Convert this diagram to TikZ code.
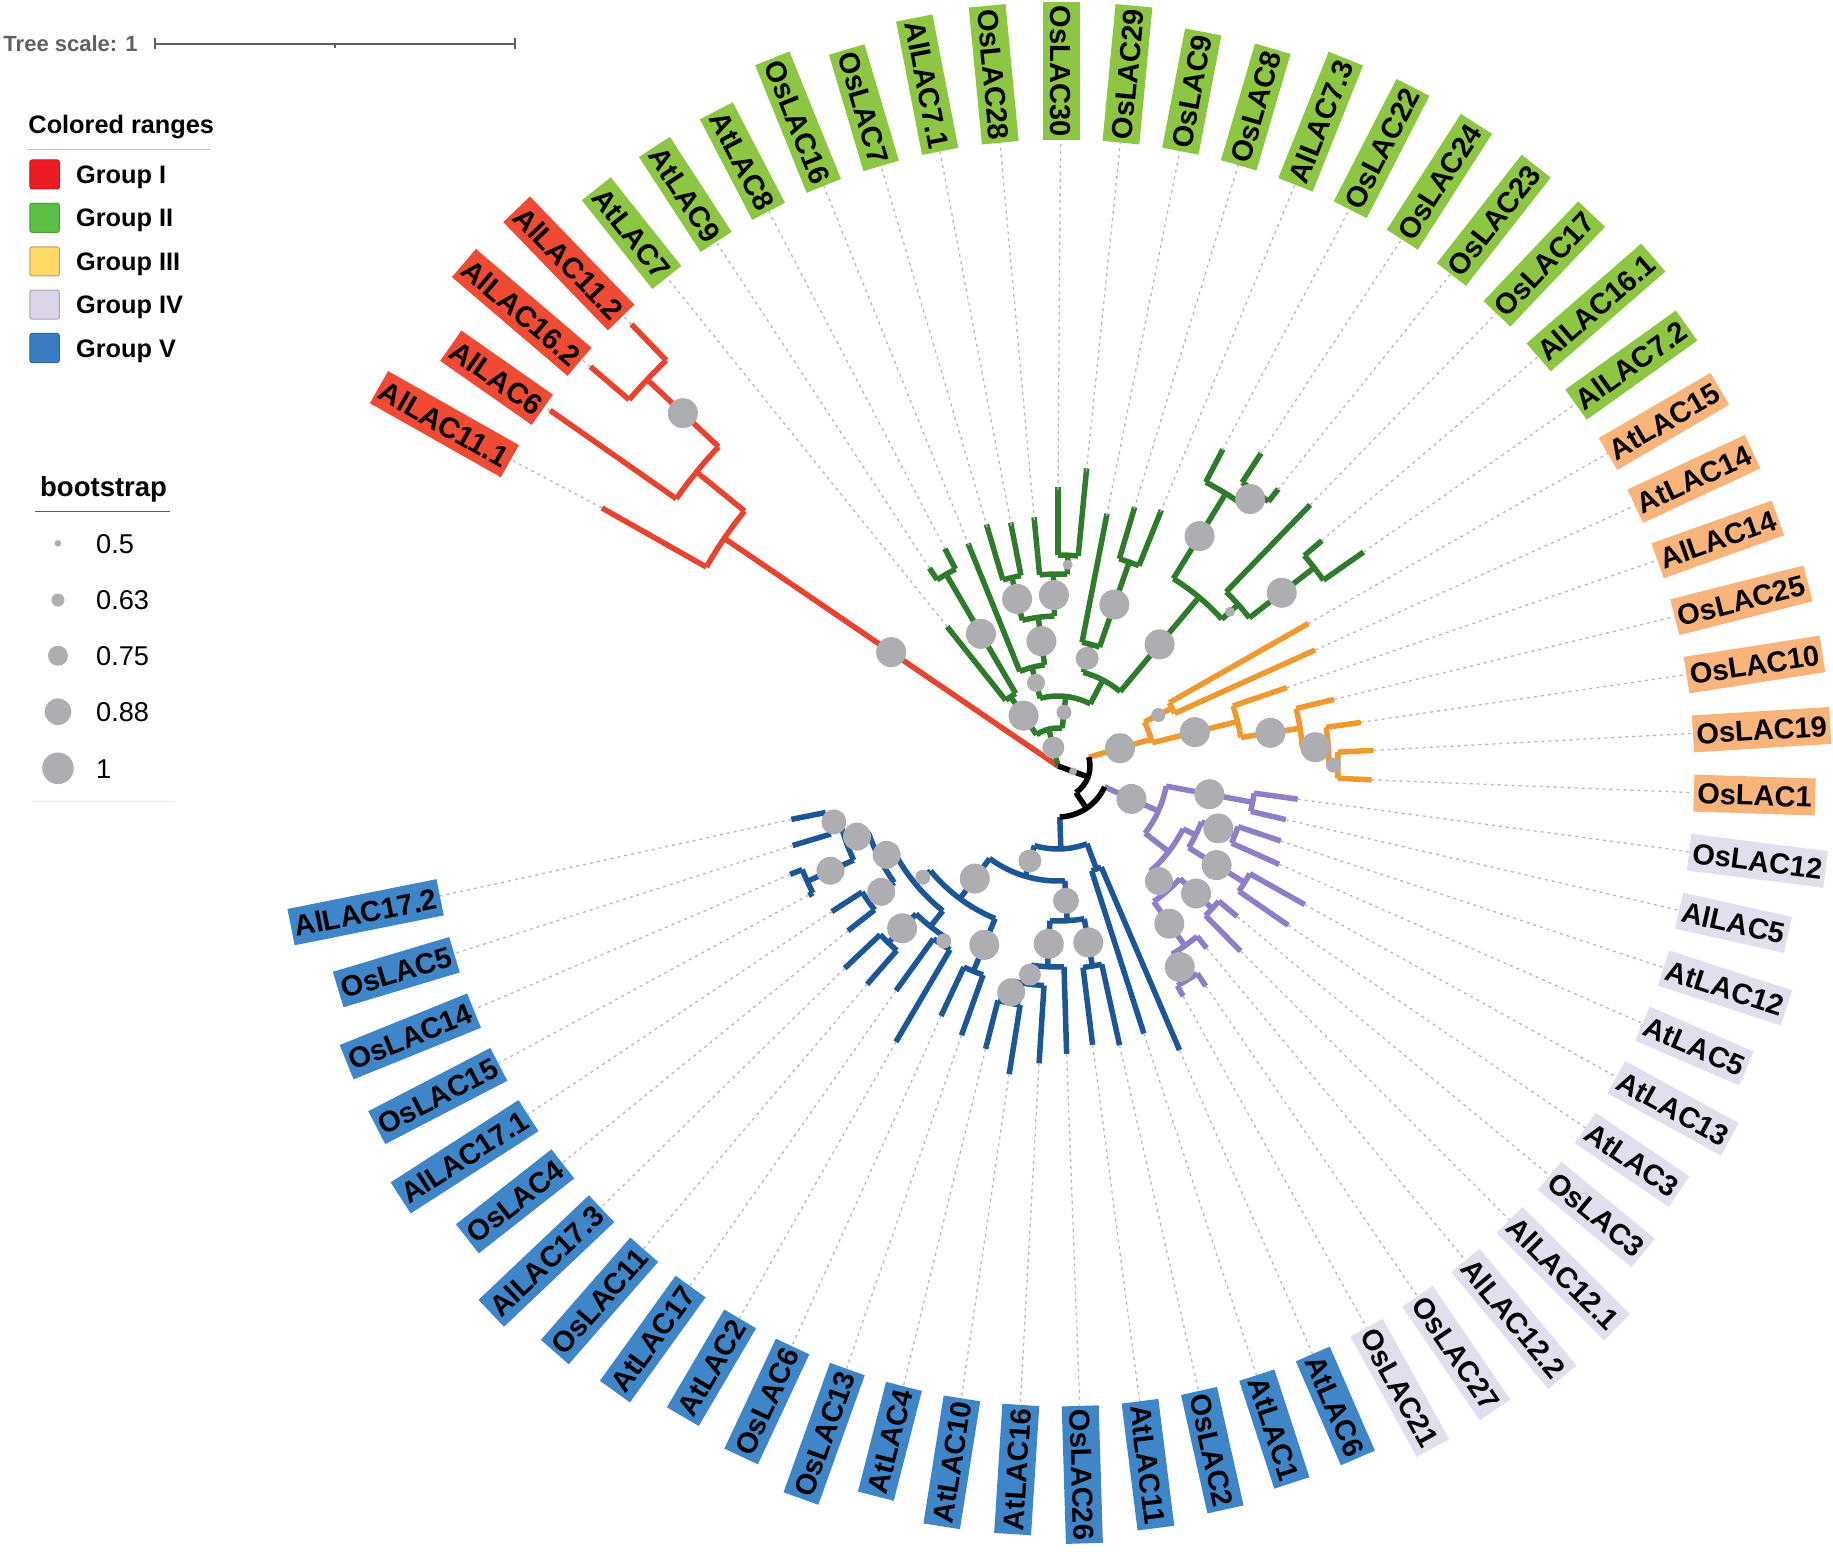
\documentclass[tikz,border=0pt]{standalone}
\usepackage{fontspec}
\setmainfont{Liberation Sans}
\definecolor{labR}{HTML}{EF4A33}
\definecolor{labG}{HTML}{8DC642}
\definecolor{labO}{HTML}{F9B47C}
\definecolor{labP}{HTML}{E2DEEE}
\definecolor{labB}{HTML}{3F86C8}
\definecolor{brR}{HTML}{E8432E}
\definecolor{brG}{HTML}{2E7B2B}
\definecolor{brO}{HTML}{F0992F}
\definecolor{brP}{HTML}{8F7EC7}
\definecolor{brB}{HTML}{1B5797}
\definecolor{bsc}{HTML}{ADADB2}
\definecolor{dotc}{HTML}{B8B8B8}
\definecolor{scl}{HTML}{616161}
\definecolor{gI}{HTML}{EC1C24}
\definecolor{gIb}{HTML}{C8141B}
\definecolor{gII}{HTML}{5BBE45}
\definecolor{gIIb}{HTML}{45A035}
\definecolor{gIII}{HTML}{FFD966}
\definecolor{gIIIb}{HTML}{B8A070}
\definecolor{gIV}{HTML}{DCD5EA}
\definecolor{gIVb}{HTML}{A8A4B4}
\definecolor{gV}{HTML}{3A7CC3}
\definecolor{gVb}{HTML}{2C63A0}
\newcommand\tnode[5]{\draw (#1:#2) -- (#1:#3); \draw[line cap=square] (#4:#3) arc[start angle=#4, end angle=#5, radius=#3pt];}
\newcommand\tleaf[3]{\draw (#1:#2) -- (#1:#3);}
\newcommand\tboot[3]{\fill[bsc] (#1:#2) circle[radius=#3pt];}
\begin{document}
\begin{tikzpicture}[x=1pt,y=1pt,
  lab/.style={font=\fontsize{29}{30}\selectfont\bfseries, inner xsep=3.5pt, inner ysep=8pt, text height=21pt, text depth=0pt},
  dotl/.style={dotc, line width=1.3pt, dash pattern=on 3pt off 4pt},
  leg/.style={font=\fontsize{25.3}{27}\selectfont\bfseries, anchor=base west, inner sep=0pt},
  val/.style={font=\fontsize{27.2}{29}\selectfont, anchor=base west, inner sep=0pt}]
\useasboundingbox (-1061,-778) rectangle (772,773);
% ---------------- tree (centre slightly above the label ring centre) ----------------
\begin{scope}[shift={(-3,7)}]
% tip coordinates
\foreach \ix/\ag/\tp in {1/150.5/524,2/145/620,3/139.5/615,4/134/614,5/128.5/178,6/123/236,7/117.5/245,8/112/238,9/106.5/249,10/101/245,11/95.5/247,12/90/276,13/84.5/296,14/79/255,15/73.5/268,16/68/274,17/62.5/356,18/57/372,19/51.5/353,20/46/363,21/40.5/347,22/35/373,23/29.64/288,24/24.28/282,25/18.92/242,26/13.56/284,27/8.2/306,28/2.84/316,29/-2.52/314,30/-7.88/242,31/-13.24/234,32/-18.6/235,33/-23.96/242,34/-29.32/283,35/-34.68/280,36/-40.04/234,37/-45.4/260,38/-50.76/235,39/-56.12/265,40/-61.48/262,41/-66.84/309,42/-72.2/281,43/-77.56/286,44/-82.92/281,45/-88.28/288,46/-93.64/298,47/-99/312,48/-104.36/292,49/-109.72/286,50/-115.08/276,51/-120.44/320,52/-125.8/277,53/-131.16/290,54/-136.52/294,55/-141.88/267,56/-147.24/269,57/-152.6/281,58/-157.96/289,59/-163.32/277,60/-168.68/272}{
  \coordinate (t\ix) at (\ag:\tp);
}
\begin{scope}[line width=5.5pt]
\begin{scope}[brR]
\tnode{145.69}{0}{404}{150.5}{140.875}
\tleaf{150.5}{404}{524}
\tnode{140.875}{404}{466}{145}{136.75}
\tleaf{145}{466}{620}
\tnode{136.75}{466}{564}{139.5}{134}
\tleaf{139.5}{564}{615}
\tleaf{134}{564}{614}
\end{scope}
\begin{scope}[brG]
\tnode{104}{0}{38}{124.375}{83.64}
\tnode{124.375}{38}{84}{128.5}{120.25}
\tleaf{128.5}{84}{178}
\tnode{120.25}{84}{222}{123}{117.5}
\tleaf{123}{222}{236}\tleaf{117.5}{222}{245}
\tnode{83.64}{38}{70}{104.78}{62.5}
\tnode{104.78}{70}{102}{112}{97.56}
\tleaf{112}{102}{240}
\tnode{97.56}{102}{150}{103.75}{91.375}
\tnode{103.75}{150}{194}{106.5}{101}
\tleaf{106.5}{194}{252}\tleaf{101}{194}{248}
\tnode{91.375}{150}{192}{95.5}{87.25}
\tleaf{95.5}{192}{250}
\tnode{87.25}{192}{211}{90}{84.5}
\tleaf{90}{211}{279}\tleaf{84.5}{211}{299}
\tnode{62.5}{70}{97}{74.875}{50.125}
\tnode{74.875}{97}{126}{79}{70.75}
\tleaf{79}{126}{257}
\tnode{70.75}{126}{216}{73.5}{68}
\tleaf{73.5}{216}{270}\tleaf{68}{216}{276}
\tnode{50.125}{97}{220}{58.375}{41.875}
\tnode{58.375}{220}{320}{62.5}{54.25}
\tleaf{62.5}{320}{357}
\tnode{54.25}{320}{338}{57}{51.5}
\tleaf{57}{338}{373}\tleaf{51.5}{338}{354}
\tnode{41.875}{220}{242}{46}{37.75}
\tleaf{46}{242}{363}
\tnode{37.75}{242}{324}{40.5}{35}
\tleaf{40.5}{324}{347}\tleaf{35}{324}{373}
\end{scope}
\begin{scope}[brO]
\tnode{16}{32}{97}{26.96}{13.9}
\tnode{26.96}{97}{128}{29.64}{24.28}
\tleaf{29.64}{128}{288}\tleaf{24.28}{128}{282}
\tnode{13.9}{97}{185}{18.92}{8.87}
\tleaf{18.92}{185}{242}
\tnode{8.87}{185}{245}{13.56}{4.18}
\tleaf{13.56}{245}{284}
\tnode{4.18}{245}{271}{8.2}{0.16}
\tleaf{8.2}{271}{306}
\tnode{0.16}{271}{280}{2.84}{-2.52}
\tleaf{2.84}{280}{316}\tleaf{-2.52}{280}{314}
\end{scope}
\begin{scope}[brP]
\tnode{-24.13}{51}{110}{-10.56}{-37.7}
\tnode{-10.56}{110}{198}{-7.88}{-13.24}
\tleaf{-7.88}{198}{242}\tleaf{-13.24}{198}{234}
\tnode{-37.7}{110}{140}{-26.64}{-48.75}
\tnode{-26.64}{140}{154}{-21.28}{-32}
\tnode{-21.28}{154}{190}{-18.6}{-23.96}
\tleaf{-18.6}{190}{235}\tleaf{-23.96}{190}{242}
\tnode{-32}{154}{220}{-29.32}{-34.68}
\tleaf{-29.32}{220}{283}\tleaf{-34.68}{220}{280}
\tnode{-48.75}{140}{166}{-42.72}{-54.78}
\tnode{-42.72}{166}{210}{-40.04}{-45.4}
\tleaf{-40.04}{210}{234}\tleaf{-45.4}{210}{260}
\tnode{-54.78}{166}{220}{-50.76}{-58.8}
\tleaf{-50.76}{220}{235}
\tnode{-58.8}{220}{250}{-56.12}{-61.48}
\tleaf{-56.12}{250}{265}\tleaf{-61.48}{250}{262}
\end{scope}
\begin{scope}[brB]
\tnode{-88}{51}{83}{-69.52}{-106.5}
\tnode{-69.52}{83}{110}{-66.84}{-72.2}
\tleaf{-66.84}{110}{309}\tleaf{-72.2}{110}{281}
\tnode{-106.5}{83}{115}{-86.6}{-126.47}
\tnode{-86.6}{115}{155}{-80.24}{-92.97}
\tnode{-80.24}{155}{203}{-77.56}{-82.92}
\tleaf{-77.56}{203}{286}\tleaf{-82.92}{203}{281}
\tnode{-92.97}{155}{201}{-88.28}{-97.66}
\tleaf{-88.28}{201}{288}
\tnode{-97.66}{201}{220}{-93.64}{-101.68}
\tleaf{-93.64}{220}{298}
\tnode{-101.68}{220}{242}{-99}{-104.36}
\tleaf{-99}{242}{312}\tleaf{-104.36}{242}{292}
\tnode{-126.47}{115}{165}{-112.4}{-140.54}
\tnode{-112.4}{165}{222}{-109.72}{-115.08}
\tleaf{-109.72}{222}{286}\tleaf{-115.08}{222}{276}
\tnode{-140.54}{165}{185}{-128.48}{-152.6}
\tnode{-128.48}{185}{205}{-123.12}{-133.84}
\tnode{-123.12}{205}{213}{-120.44}{-125.8}
\tleaf{-120.44}{213}{320}\tleaf{-125.8}{213}{277}
\tnode{-133.84}{205}{245}{-131.16}{-136.52}
\tleaf{-131.16}{245}{290}\tleaf{-136.52}{245}{294}
\tnode{-152.6}{185}{201}{-144.56}{-160.64}
\tnode{-144.56}{201}{233}{-141.88}{-147.24}
\tleaf{-141.88}{233}{267}\tleaf{-147.24}{233}{269}
\tnode{-160.64}{201}{225}{-155.28}{-166}
\tnode{-155.28}{225}{276}{-152.6}{-157.96}
\tleaf{-152.6}{276}{281}\tleaf{-157.96}{276}{289}
\tnode{-166}{225}{237}{-163.32}{-168.68}
\tleaf{-163.32}{237}{277}\tleaf{-168.68}{237}{272}
\end{scope}
\begin{scope}[black]
\tnode{-20}{0}{32}{16}{-56.07}
\tnode{-56.07}{32}{51}{-24.13}{-88}
\end{scope}
\end{scope}
% bootstrap circles
\tboot{145.69}{202}{15}\tboot{136.75}{515}{15}
\tboot{104}{19}{11}\tboot{124.375}{61}{15}\tboot{120.25}{153}{15}
\tboot{83.64}{54}{7.5}\tboot{104.78}{86}{9}\tboot{97.56}{126}{15}
\tboot{103.75}{172}{15}\tboot{91.375}{171}{15}\tboot{87.25}{201.5}{5}
\tboot{74.875}{111.5}{11.5}\tboot{70.75}{171}{15}\tboot{50.125}{158.5}{15}
\tboot{58.375}{270}{15}\tboot{54.25}{329}{15}\tboot{41.875}{231}{5}
\tboot{37.75}{283}{15}
\tboot{-20}{16}{4}
\tboot{16}{64.5}{15}\tboot{26.96}{112.5}{7}\tboot{13.9}{141}{15}
\tboot{8.87}{215}{15}\tboot{4.18}{258}{15}\tboot{0.16}{275.5}{7.5}
\tboot{-24.13}{80.5}{15}\tboot{-10.56}{154}{15}\tboot{-21.28}{172}{15}
\tboot{-32}{187}{15}\tboot{-48.75}{153}{14}\tboot{-42.72}{188}{15}
\tboot{-54.78}{193}{15}\tboot{-58.8}{235}{15}
\tboot{-106.5}{99}{11.5}\tboot{-86.6}{135}{13}\tboot{-80.24}{179}{15}
\tboot{-92.97}{178}{15}\tboot{-97.66}{210.5}{11}\tboot{-101.68}{231}{14}
\tboot{-126.47}{140}{15}\tboot{-112.4}{193.5}{15}\tboot{-140.54}{175}{7.5}
\tboot{-123.12}{209}{7.5}\tboot{-133.84}{225}{15}\tboot{-152.6}{193}{14}
\tboot{-144.56}{217}{14}\tboot{-160.64}{213}{14}\tboot{-155.28}{250.5}{14}
\tboot{-166}{231}{12.5}
\end{scope}
% ---------------- labels and dotted guides ----------------
\foreach \ix/\ag/\nm/\cl in {1/150.5/AlLAC11.1/labR,
2/145/AlLAC6/labR,
3/139.5/AlLAC16.2/labR,
4/134/AlLAC11.2/labR,
5/128.5/AtLAC7/labG,
6/123/AtLAC9/labG,
7/117.5/AtLAC8/labG,
8/112/OsLAC16/labG,
9/106.5/OsLAC7/labG,
10/101/AlLAC7.1/labG,
11/95.5/OsLAC28/labG,
12/90/OsLAC30/labG,
13/84.5/OsLAC29/labG,
14/79/OsLAC9/labG,
15/73.5/OsLAC8/labG,
16/68/AlLAC7.3/labG,
17/62.5/OsLAC22/labG,
18/57/OsLAC24/labG,
19/51.5/OsLAC23/labG,
20/46/OsLAC17/labG,
21/40.5/AlLAC16.1/labG,
22/35/AlLAC7.2/labG,
23/29.64/AtLAC15/labO,
24/24.28/AtLAC14/labO,
25/18.92/AlLAC14/labO,
26/13.56/OsLAC25/labO,
27/8.2/OsLAC10/labO,
28/2.84/OsLAC19/labO,
29/-2.52/OsLAC1/labO,
30/-7.88/OsLAC12/labP,
31/-13.24/AlLAC5/labP,
32/-18.6/AtLAC12/labP,
33/-23.96/AtLAC5/labP,
34/-29.32/AtLAC13/labP,
35/-34.68/AtLAC3/labP,
36/-40.04/OsLAC3/labP,
37/-45.4/AlLAC12.1/labP,
38/-50.76/AlLAC12.2/labP,
39/-56.12/OsLAC27/labP,
40/-61.48/OsLAC21/labP,
41/-66.84/AtLAC6/labB,
42/-72.2/AtLAC1/labB,
43/-77.56/OsLAC2/labB,
44/-82.92/AtLAC11/labB,
45/-88.28/OsLAC26/labB,
46/-93.64/AtLAC16/labB,
47/-99/AtLAC10/labB,
48/-104.36/AtLAC4/labB,
49/-109.72/OsLAC13/labB,
50/-115.08/OsLAC6/labB,
51/-120.44/AtLAC2/labB,
52/-125.8/AtLAC17/labB,
53/-131.16/OsLAC11/labB,
54/-136.52/AlLAC17.3/labB,
55/-141.88/OsLAC4/labB,
56/-147.24/AlLAC17.1/labB,
57/-152.6/OsLAC15/labB,
58/-157.96/OsLAC14/labB,
59/-163.32/OsLAC5/labB,
60/-168.68/AlLAC17.2/labB}{
  \pgfmathtruncatemacro\sd{or(\ag>89.9,\ag<-90)}
  \ifnum\sd=1
    \pgfmathsetmacro\rt{\ag-180}
    \node[lab,fill=\cl,rotate=\rt,anchor=east] (l\ix) at (\ag:633) {\nm};
  \else
    \pgfmathsetmacro\agg{\ag+0.7*cos(\ag)}
    \node[lab,fill=\cl,rotate=\agg,anchor=west] (l\ix) at (\agg:633) {\nm};
  \fi
  \draw[dotl] (t\ix) -- (l\ix);
}
% ---------------- legends ----------------
\node[font=\fontsize{22}{24}\selectfont\bfseries, text=scl, anchor=base west, inner sep=0pt] (ts) at (-1057.7,721.3) {Tree scale: 1};
\coordinate (sb1) at (-906,729);
\coordinate (sb2) at (-546,729);
\coordinate (sbm) at (-726,729);
\draw[scl, line width=1.5pt] (sb1) -- (sb2);
\draw[scl, line width=1.5pt] ([yshift=-5.5pt]sb1) -- ([yshift=5.5pt]sb1);
\draw[scl, line width=1.5pt] ([yshift=-5.5pt]sb2) -- ([yshift=5.5pt]sb2);
\draw[scl, line width=1.2pt] (sbm) -- ([yshift=-4.5pt]sbm);
\node[leg] (crt) at (-1032.7,639.7) {Colored ranges};
\draw[black!25, line width=1.5pt] (-1033.7,623.7) -- (-850.3,623.7);
\foreach \y/\c/\d/\t [count=\k] in {598.5/gI/gIb/Group I,555.2/gII/gIIb/Group II,511.7/gIII/gIIIb/Group III,468.3/gIV/gIVb/Group IV,425/gV/gVb/Group V}{
  \filldraw[fill=\c, draw=\d, line width=1pt, rounded corners=2pt] (-1031,\y-14.5) rectangle (-1001.7,\y+14.5);
  \node[leg] (g\k) at (-985,\y-9) {\t};
}
\node[leg, font=\fontsize{27.5}{29}\selectfont\bfseries] (bst) at (-1021,276.3) {bootstrap};
\draw[black!65, line width=1.5pt] (-1026,261.3) -- (-891,261.3);
\foreach \y/\r/\v [count=\k] in {229.7/3.3/0.5,173/6.5/0.63,117.3/10/0.75,61.3/13.3/0.88,4.7/15.8/1}{
  \fill[bsc] (-1003,\y) circle[radius=\r pt];
  \node[val] (v\k) at (-965,\y-9.7) {\v};
}
\draw[black!8, line width=1pt] (-1029,-28.7) -- (-886,-28.7);
\end{tikzpicture}
\end{document}
